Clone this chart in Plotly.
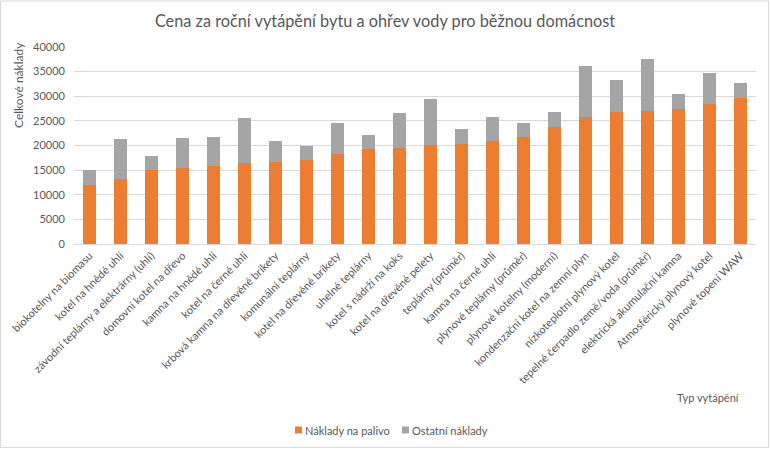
import plotly.graph_objects as go

categories = [
    "biokotelny na biomasu", "kotel na hnědé uhlí", "závodní teplárny a elektrárny (uhlí)",
    "domovní kotel na dřevo", "kamna na hnědé uhlí", "kotel na černé uhlí",
    "krbová kamna na dřevěné brikety", "komunální teplárny", "kotel na dřevěné brikety",
    "uhelné teplárny", "kotel s nádrží na koks", "kotel na dřevěné pelety",
    "teplárny (průměr)", "kamna na černé uhlí", "plynové teplárny (průměr)",
    "plynové kotelny (moderní)", "kondenzační kotel na zemní plyn", "nízkoteplotní plynový kotel",
    "tepelné čerpadlo země/voda (průměr)", "elektrická akumulační kamna",
    "Atmosférický plynový kotel", "plynové topení WAW",
]
fuel_costs = [12000, 13300, 15000, 15500, 15800, 16500, 16700, 17000, 18200, 19300, 19500,
              20100, 20400, 20900, 21800, 23800, 25800, 26900, 27000, 27500, 28500, 29700]
totals = [15000, 21300, 17900, 21500, 21700, 25500, 21000, 20000, 24600, 22200, 26600,
          29500, 23400, 25700, 24600, 26800, 36200, 33200, 37500, 30500, 34800, 32700]
other_costs = [t - f for t, f in zip(totals, fuel_costs)]
y_ticks = [0, 5000, 10000, 15000, 20000, 25000, 30000, 35000, 40000]
series_names = ["Náklady na palivo", "Ostatní náklady"]
series_colors = ["#ED7D31", "#A5A5A5"]

FONT = "Lato, Open Sans, sans-serif"
GREY = "#595959"

fig = go.Figure()
fig.add_trace(go.Bar(x=categories, y=fuel_costs, name=series_names[0],
                     marker=dict(color=series_colors[0], line=dict(width=0))))
fig.add_trace(go.Bar(x=categories, y=other_costs, name=series_names[1],
                     marker=dict(color=series_colors[1], line=dict(width=0))))

L, R, T, B = 74, 14, 47, 205
W, H = 770, 449
pw, ph = W - L - R, H - T - B

def px(x):
    return (x - L) / pw

def py(y):
    return (H - B - y) / ph

fig.update_layout(
    width=W, height=H,
    barmode="stack", bargap=0.58,
    paper_bgcolor="white", plot_bgcolor="white",
    margin=dict(l=L, r=R, t=T, b=B, autoexpand=False),
    font=dict(family=FONT, color=GREY, size=11),
    title=dict(text="Cena za roční vytápění bytu a ohřev vody pro běžnou domácnost",
               x=0.5, xref="container", xanchor="center", y=1 - 21 / H, yanchor="middle",
               font=dict(size=16.3, color=GREY, family=FONT)),
    xaxis=dict(tickangle=-45, tickfont=dict(size=11, color=GREY), showgrid=False,
               showline=True, linecolor="#D9D9D9", linewidth=1, ticks=""),
    yaxis=dict(range=[0, 40000], tickvals=y_ticks, ticktext=[str(v) for v in y_ticks],
               tickfont=dict(size=11, color=GREY), showgrid=True, gridcolor="#D9D9D9",
               gridwidth=1, zeroline=False, showline=False, ticks="", ticklabelstandoff=8),
    showlegend=False,
)

fig.add_annotation(text="Celkové náklady", x=px(18), y=py(85), xref="paper", yref="paper",
                   textangle=-90, showarrow=False, font=dict(size=12, color=GREY),
                   xanchor="center", yanchor="middle")
fig.add_annotation(text="Typ vytápění", x=px(741), y=py(397), xref="paper", yref="paper",
                   showarrow=False, font=dict(size=11, color=GREY),
                   xanchor="right", yanchor="middle")

# manual legend
leg_x = [295, 402]
for name, color, lx in zip(series_names, series_colors, leg_x):
    fig.add_shape(type="rect", xref="paper", yref="paper",
                  x0=px(lx), x1=px(lx + 7), y0=py(433.5), y1=py(426.5),
                  line=dict(width=0), fillcolor=color)
    fig.add_annotation(text=name, x=px(lx + 8), y=py(430), xref="paper", yref="paper",
                       showarrow=False, font=dict(size=11, color=GREY),
                       xanchor="left", yanchor="middle")

fig.add_shape(type="rect", xref="paper", yref="paper",
              x0=px(0.5), x1=px(768.5), y0=py(447.5), y1=py(1),
              line=dict(color="#D9D9D9", width=1), fillcolor="rgba(0,0,0,0)", layer="below")

fig.write_html("out.html", config={"displayModeBar": False},
               post_script="document.body.style.margin='0';")
